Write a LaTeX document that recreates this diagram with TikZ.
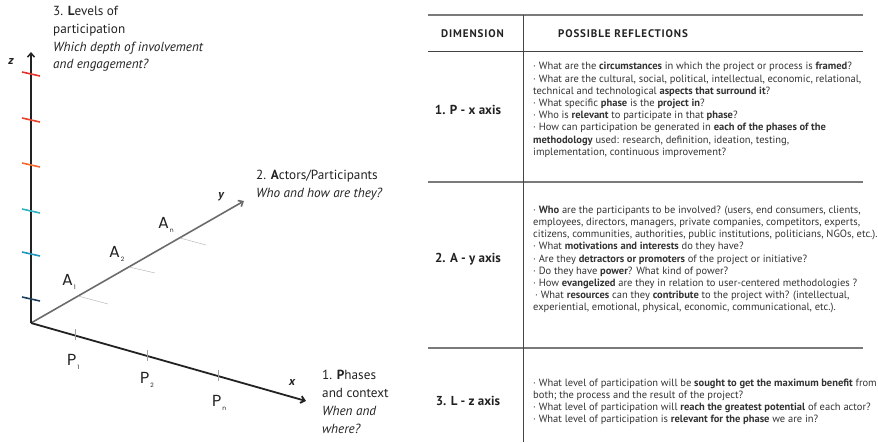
\documentclass[tikz,border=0pt]{standalone}
\usepackage{fontspec}
\setmainfont{PT Sans}
\newfontfamily\geofont{Poppins}
\usetikzlibrary{arrows.meta}

\definecolor{ink}{HTML}{222222}
\definecolor{bodyink}{HTML}{333333}
\definecolor{rulegray}{HTML}{7A7A7A}
\definecolor{colgray}{HTML}{444444}
\definecolor{axisgray}{HTML}{6B6B6B}
\definecolor{lvA}{HTML}{E3322B}
\definecolor{lvB}{HTML}{E8412C}
\definecolor{lvC}{HTML}{F26A2E}
\definecolor{lvD}{HTML}{2FB3C2}
\definecolor{lvE}{HTML}{1F95BC}
\definecolor{lvF}{HTML}{1C3E5E}

\newcommand{\lowsub}[1]{\hspace{1pt}\raisebox{-4.5pt}{\fontsize{6}{6}\selectfont #1}}

\begin{document}
\begin{tikzpicture}[x=1pt,y=-1pt,
  axisline/.style={line width=1.6pt, -{Straight Barb[length=4pt,width=7pt]}},
  leveltick/.style={line width=1.6pt},
  ytick/.style={draw=gray!55, line width=0.5pt},
  xtick/.style={draw=gray!75, line width=0.6pt},
  geolabel/.style={font=\geofont\fontsize{16}{16}\selectfont, inner sep=0pt, anchor=base west, text=ink},
  axisname/.style={font=\bfseries\itshape\fontsize{12}{12}\selectfont, inner sep=0pt, text=ink},
  note/.style={align=left, anchor=north west, inner sep=0pt, font=\fontsize{13.2}{17.8}\selectfont, text=ink},
  toprule/.style={draw=rulegray, line width=1.3pt},
  midrule/.style={draw=colgray, line width=0.8pt},
  head/.style={font=\bfseries\fontsize{11}{11}\selectfont\addfontfeatures{LetterSpace=8}, inner sep=0pt, anchor=west, text=ink},
  dimlabel/.style={font=\bfseries\fontsize{13}{13}\selectfont, inner sep=0pt, text=ink},
  qtext/.style={align=left, anchor=west, inner sep=0pt, font=\fontsize{10.5}{12.2}\selectfont, text=bodyink}
]
\useasboundingbox (0,0) rectangle (878,442);

% ---------- three-axis diagram ----------
\coordinate (O) at (31,323);
\coordinate (zend) at (31,52);
\coordinate (yend) at (244,201);
\coordinate (xend) at (306,401);

% actors axis (grey) with its light tick marks
\draw[axisline, draw=axisgray] (O) -- (yend);
\coordinate (ya1) at (78,296);
\coordinate (ya2) at (129,267);
\coordinate (yan) at (180,238);
\draw[ytick] (ya1) -- ++(30,8);
\draw[ytick] (ya2) -- ++(26,6);
\draw[ytick] (yan) -- ++(26,7);

% phases axis
\draw[axisline, draw=ink, line width=1.8pt] (O) -- (xend);
\coordinate (xp1) at (75,335);
\coordinate (xp2) at (147,355.5);
\coordinate (xpn) at (218,375.5);
\foreach \p in {xp1,xp2,xpn}
  \draw[xtick] (\p) ++(0,-6) -- ++(0,11);

% levels axis with coloured level marks
\draw[axisline, draw=ink, line width=1.5pt] (O) -- (zend);
\foreach \yy/\cc in {74/lvA,120/lvB,165/lvC,211/lvD,254/lvE,299/lvF}
  \draw[leveltick, draw=\cc] (22,\yy-2) -- (40,\yy+2);

% axis names
\node[axisname] (zname) at (11,61) {z};
\node[axisname] (yname) at (221,197) {y};
\node[axisname] (xname) at (292,382) {x};

% actor and phase markers
\node[geolabel] (A1) at (62,285) {A\lowsub{1}};
\node[geolabel] (A2) at (109,257) {A\lowsub{2}};
\node[geolabel] (An) at (158,228) {A\lowsub{n}};
\node[geolabel] (P1) at (67,365) {P\lowsub{1}};
\node[geolabel] (P2) at (140,383) {P\lowsub{2}};
\node[geolabel] (Pn) at (212,406) {P\lowsub{n}};

% dimension captions
\node[note] (levels) at (53,6) {3. \textbf{L}evels of\\participation\\\textit{Which depth of involvement}\\\textit{and engagement?}};
\node[note] (actors) at (256,170) {2. \textbf{A}ctors/Participants\\\textit{Who and how are they?}};
\node[note] (phases) at (322,370) {1. \textbf{P}hases\\and context\\\textit{When and}\\\textit{where?}};

% ---------- table of reflections ----------
\coordinate (tl) at (428,15);
\coordinate (tr) at (863,15);
\draw[toprule] (tl) -- (tr);
\draw[midrule] (428,51) -- (863,51);
\draw[toprule] (428,182) -- (863,182);
\draw[toprule] (428,348) -- (863,348);
\draw[midrule] (523,15) -- (523,442);

\node[head] (hdim) at (441,34) {DIMENSION};
\node[head] (hrefl) at (558,34) {POSSIBLE REFLECTIONS};

\node[dimlabel] (d1) at (468,110) {1. P - x axis};
\node[dimlabel] (d2) at (468,259) {2. A - y axis};
\node[dimlabel] (d3) at (468,401) {3. L - z axis};

\node[qtext] (q1) at (533,110) {%
· What are the \textbf{circumstances} in which the project or process is \textbf{framed}?\\
· What are the cultural, social, political, intellectual, economic, relational,\\
technical and technological \textbf{aspects that surround it}?\\
· What specific \textbf{phase} is the \textbf{project in}?\\
· Who is \textbf{relevant} to participate in that \textbf{phase}?\\
· How can participation be generated in \textbf{each of the phases of the}\\
\textbf{methodology} used: research, definition, ideation, testing,\\
implementation, continuous improvement?};

\node[qtext] (q2) at (533,259.5) {%
· \textbf{Who} are the participants to be involved? (users, end consumers, clients,\\
employees, directors, managers, private companies, competitors, experts,\\
citizens, communities, authorities, public institutions, politicians, NGOs, etc.).\\
· What \textbf{motivations and interests} do they have?\\
· Are they \textbf{detractors or promoters} of the project or initiative?\\
· Do they have \textbf{power}? What kind of power?\\
· How \textbf{evangelized} are they in relation to user-centered methodologies ?\\
\hspace{2pt}· What \textbf{resources} can they \textbf{contribute} to the project with? (intellectual,\\
experiential, emotional, physical, economic, communicational, etc.).};

\node[qtext] (q3) at (533,402) {%
· What level of participation will be \textbf{sought to get the maximum benefit} from\\
both; the process and the result of the project?\\
· What level of participation will \textbf{reach the greatest potential} of each actor?\\
· What level of participation is \textbf{relevant for the phase} we are in?};
\end{tikzpicture}
\end{document}
